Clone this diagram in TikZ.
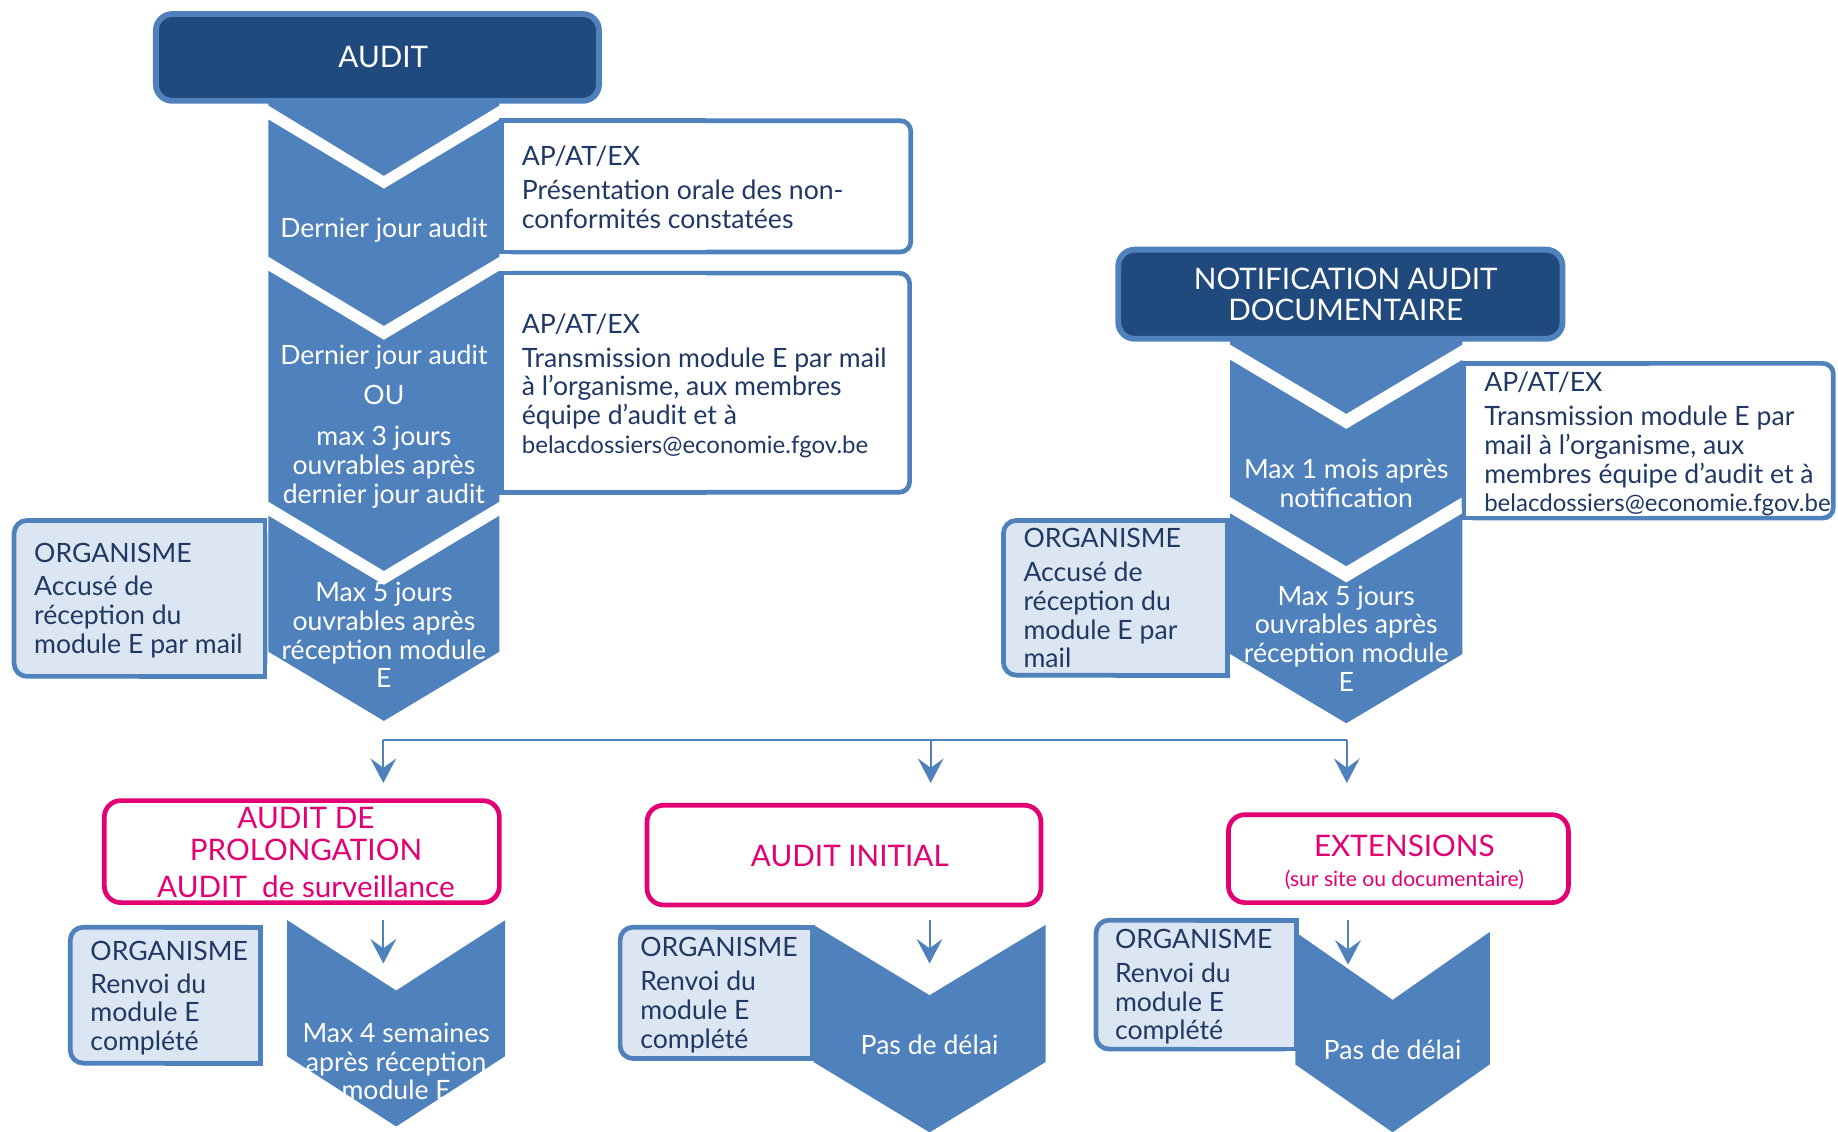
\documentclass[tikz,border=0pt]{standalone}
\usepackage{fontspec}
\setmainfont{Lato}
\usetikzlibrary{arrows.meta}
\definecolor{chevblue}{RGB}{79,129,189}
\definecolor{hdrfill}{RGB}{32,74,125}
\definecolor{navytxt}{RGB}{31,56,100}
\definecolor{orgfill}{RGB}{220,230,242}
\definecolor{pinkc}{RGB}{226,0,116}
\newcommand{\mychev}[5]{% cx hw T B d
  \fill[chevblue] ({#1-#2},#3) -- (#1,{#3+#5}) -- ({#1+#2},#3) -- ({#1+#2},#4) -- (#1,{#4+#5}) -- ({#1-#2},#4) -- cycle;}
\newcommand{\boxRR}[5]{% fill x1 y1 x2 y2 ; right corners rounded
  \draw[fill=#1, draw=chevblue, line width=4pt, rounded corners=9pt] (#2,#3) rectangle (#4,#5);
  \fill[#1] (#2,#3) rectangle ({(#2+#4)/2},#5);
  \draw[chevblue, line width=4pt] ({(#2+#4)/2},#3) -- (#2,#3) -- (#2,#5) -- ({(#2+#4)/2},#5);}
\newcommand{\boxLR}[5]{% fill x1 y1 x2 y2 ; left corners rounded
  \draw[fill=#1, draw=chevblue, line width=4pt, rounded corners=11pt] (#2,#3) rectangle (#4,#5);
  \fill[#1] ({(#2+#4)/2},#3) rectangle (#4,#5);
  \draw[chevblue, line width=4pt] ({(#2+#4)/2},#3) -- (#4,#3) -- (#4,#5) -- ({(#2+#4)/2},#5);}
\newcommand{\mailtxt}{{\fontsize{20.5}{24.5}\selectfont belacdossiers@economie.fgov.be}}
\tikzset{
  hdrbox/.style={fill=hdrfill, draw=chevblue, line width=5pt, rounded corners=14pt},
  pinkbox/.style={fill=white, draw=pinkc, line width=4pt, rounded corners=14pt},
  wtxt/.style={font=\fontsize{22.7}{24.5}\selectfont, text=white, inner sep=0pt, align=center, anchor=north},
  ntxt/.style={font=\fontsize{22.7}{24.5}\selectfont, text=navytxt, inner sep=0pt, align=left, anchor=north west},
  htxt/.style={font=\fontsize{25.3}{27}\selectfont, text=white, inner sep=0pt, align=center},
  ptxt/.style={font=\fontsize{25.3}{27}\selectfont, text=pinkc, inner sep=0pt, align=center},
  conn/.style={draw=chevblue, line width=1.8pt},
  arr/.style={conn, -{Stealth[length=21pt, width=22pt, inset=8pt]}}
}
\begin{document}
\begin{tikzpicture}[x=1pt,y=-1pt]
\useasboundingbox (0,0) rectangle (1568,965);
% ---------- left column chevrons
\fill[chevblue] (229,60) -- (426,60) -- (426,90) -- (327.5,150) -- (229,90) -- cycle;
\mychev{327.5}{98.5}{102}{219}{59}
\mychev{327.5}{98.5}{231}{428}{59}
\mychev{327.5}{98.5}{440}{556}{59}
\draw[hdrbox] (133,12) rectangle (511,86);
\boxRR{white}{428}{103}{777}{215}
\boxRR{white}{428}{233}{776}{420}
\boxLR{orgfill}{12}{444}{226}{577}
% ---------- right column chevrons
\fill[chevblue] (1049.5,260) -- (1247.5,260) -- (1247.5,294) -- (1148.5,353) -- (1049.5,294) -- cycle;
\mychev{1148.5}{99}{307}{424}{59}
\mychev{1148.5}{99}{438}{558}{59}
\draw[hdrbox] (954,213) rectangle (1333,289);
\boxRR{white}{1249}{310}{1564}{442}
\boxLR{orgfill}{856}{444}{1047}{576}
% ---------- bottom
\draw[pinkbox] (89,683) rectangle (426,770);
\draw[pinkbox] (552,687) rectangle (888,772);
\draw[pinkbox] (1048,695) rectangle (1338,770);
\mychev{338}{93}{785}{901}{60}
\mychev{793}{99}{789}{906}{60}
\mychev{1188}{83}{795}{908}{58}
\boxLR{orgfill}{60}{791}{222}{907}
\boxLR{orgfill}{529}{791}{693}{903}
\boxLR{orgfill}{935}{785}{1106}{895}
% ---------- connectors
\coordinate (j1) at (327,631);
\coordinate (j2) at (794,631);
\coordinate (j3) at (1149,631);
\coordinate (a1) at (327,668);
\coordinate (a2) at (794,668);
\coordinate (a3) at (1149,668);
\draw[conn] (j1) -- (j3);
\draw[arr] (j1) -- (a1);
\draw[arr] (j2) -- (a2);
\draw[arr] (j3) -- (a3);
\coordinate (s1) at (327,785);
\coordinate (t1) at (327,822);
\coordinate (s2) at (793,785);
\coordinate (t2) at (793,822);
\coordinate (s3) at (1150,785);
\coordinate (t3) at (1150,823);
\draw[arr] (s1) -- (t1);
\draw[arr] (s2) -- (t2);
\draw[arr] (s3) -- (t3);
% ---------- texts
\begin{scope}[shift={(0,2)}]
\node[htxt, anchor=base] (haudit) at (327,55.5) {AUDIT};
\node[htxt, anchor=north] (hnotif) at (1148,225.6) {\strut NOTIFICATION AUDIT\\DOCUMENTAIRE};
\node[wtxt] (tl1) at (327.5,182.85) {\strut Dernier jour audit};
\node[wtxt] (tl2) at (327.5,291.85) {\strut Dernier jour audit\\[9.5pt]OU\\[10.5pt]max 3 jours\\ouvrables après\\dernier jour audit};
\node[wtxt] (tl3) at (327.5,493.85) {\strut Max 5 jours\\ouvrables après\\réception module\\E};
\node[ntxt] (ap1) at (445,121.85) {\strut AP/AT/EX\\[4.5pt]Présentation orale des non-\\conformités constatées};
\node[ntxt] (ap2) at (445,264.85) {\strut AP/AT/EX\\[4.5pt]Transmission module E par mail\\à l’organisme, aux membres\\équipe d’audit et à\\\mailtxt};
\node[ntxt] (orgl) at (29,460.85) {\strut ORGANISME\\[3.5pt]Accusé de\\réception du\\module E par mail};
\node[wtxt] (tr1) at (1148.5,388.85) {\strut Max 1 mois après\\notification};
\node[wtxt] (tr2) at (1148.5,496.85) {\strut Max 5 jours\\ouvrables après\\réception module\\E};
\node[ntxt] (apr) at (1266,314.85) {\strut AP/AT/EX\\[4.5pt]Transmission module E par\\mail à l’organisme, aux\\membres équipe d’audit et à\\\mailtxt};
\node[ntxt] (orgr) at (873,447.85) {\strut ORGANISME\\[4.5pt]Accusé de\\réception du\\module E par\\mail};
\node[ptxt, anchor=north] (pa) at (261,686) {\strut AUDIT DE\\PROLONGATION\\[4.5pt]AUDIT\ \ de surveillance};
\node[ptxt, anchor=base] (pb) at (725,737.5) {AUDIT INITIAL};
\node[ptxt, anchor=base] (pc) at (1198,728.5) {EXTENSIONS};
\node[ptxt, anchor=base, font=\fontsize{18}{20}\selectfont] (pc2) at (1198,754) {(sur site ou documentaire)};
\node[ntxt] (orga) at (77,799.85) {\strut ORGANISME\\[3.5pt]Renvoi du\\module E\\complété};
\node[ntxt] (orgb) at (546,796.85) {\strut ORGANISME\\[4.5pt]Renvoi du\\module E\\complété};
\node[ntxt] (orgc) at (951,789.85) {\strut ORGANISME\\[4.5pt]Renvoi du\\module E\\complété};
\node[wtxt] (ca) at (338,869.85) {\strut Max 4 semaines\\après réception\\module E};
\node[wtxt, anchor=base] (cb) at (793,898) {Pas de délai};
\node[wtxt, anchor=base] (cc) at (1188,902) {Pas de délai};
\end{scope}
\end{tikzpicture}
\end{document}
